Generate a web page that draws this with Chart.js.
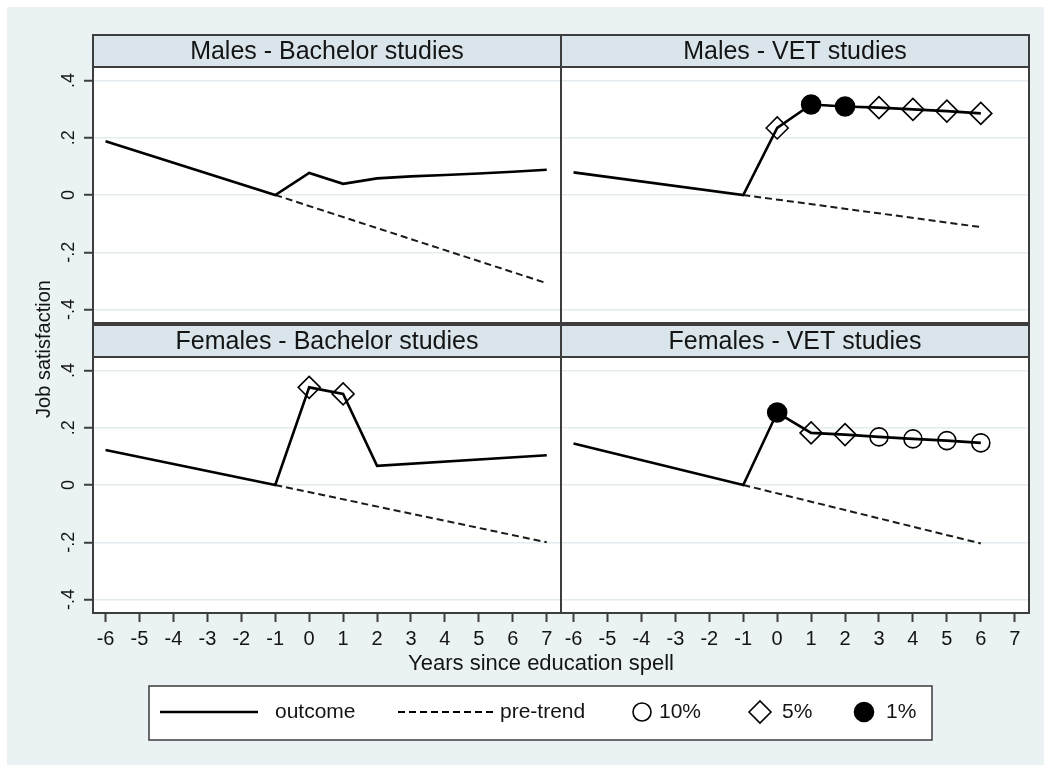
<!DOCTYPE html>
<html>
<head>
<meta charset="utf-8">
<script src="https://cdn.jsdelivr.net/npm/chart.js@4.4.0/dist/chart.umd.min.js"></script>
<style>
  html, body { margin: 0; padding: 0; background: #ffffff; }
  #page { position: relative; width: 1044px; height: 765px; overflow: hidden; }
  #bg { position: absolute; left: 7px; top: 7px; right: 0; bottom: 0; background: #eaf2f3; }
  canvas.layer { position: absolute; left: 0; top: 0; }
</style>
</head>
<body>
<div id="page">
  <div id="bg"></div>
  <canvas id="p0" class="layer" width="1044" height="765"></canvas>
  <canvas id="p1" class="layer" width="1044" height="765"></canvas>
  <canvas id="p2" class="layer" width="1044" height="765"></canvas>
  <canvas id="p3" class="layer" width="1044" height="765"></canvas>
</div>
<script>
// ---- data -------------------------------------------------------------
const xTicks = [-6, -5, -4, -3, -2, -1, 0, 1, 2, 3, 4, 5, 6, 7];
const yTicks = [-0.4, -0.2, 0, 0.2, 0.4];
const yTickLabels = ['-.4', '-.2', '0', '.2', '.4'];

const panelTitles = ['Males - Bachelor studies', 'Males - VET studies',
                     'Females - Bachelor studies', 'Females - VET studies'];

// Males, Bachelor studies
const mbYears = [-6, -1, 0, 1, 2, 3, 4, 5, 6, 7];
const mbOutcome = [0.188, 0, 0.077, 0.039, 0.058, 0.065, 0.070, 0.075, 0.081, 0.088];
const mbSig = ['', '', '', '', '', '', '', '', '', ''];
const mbTrendYears = [-1, 7];
const mbTrend = [0, -0.308];

// Males, VET studies
const mvYears = [-6, -1, 0, 1, 2, 3, 4, 5, 6];
const mvOutcome = [0.079, 0, 0.234, 0.316, 0.309, 0.305, 0.299, 0.293, 0.285];
const mvSig = ['', '', '5%', '1%', '1%', '5%', '5%', '5%', '5%'];
const mvTrendYears = [-1, 6];
const mvTrend = [0, -0.112];

// Females, Bachelor studies
const fbYears = [-6, -1, 0, 1, 2, 7];
const fbOutcome = [0.122, 0, 0.341, 0.318, 0.067, 0.104];
const fbSig = ['', '', '5%', '5%', '', ''];
const fbTrendYears = [-1, 7];
const fbTrend = [0, -0.200];

// Females, VET studies
const fvYears = [-6, -1, 0, 1, 2, 3, 4, 5, 6];
const fvOutcome = [0.145, 0, 0.253, 0.182, 0.176, 0.168, 0.161, 0.155, 0.147];
const fvSig = ['', '', '1%', '5%', '5%', '10%', '10%', '10%', '10%'];
const fvTrendYears = [-1, 6];
const fvTrend = [0, -0.204];

const legendLabels = ['outcome', 'pre-trend', '10%', '5%', '1%'];
const xTitle = 'Years since education spell';
const yTitle = 'Job satisfaction';

// ---- styling / layout ------------------------------------------------------
const W = 1044, H = 765;
const FONT = "'Liberation Sans', Arial, sans-serif";
const INK = '#000000';
const TEXT = '#141414';
const FRAME = '#3d3d3d';
const GRID = '#e3ecef';
const STRIP = '#d9e5ea';
const COLS = [[93, 561], [561, 1029]];
const ROWS = [[67, 323], [357, 613]];
const STRIP_H = 32;
const Y_AXIS_W = 10;
const X_AXIS_H = 60;

const markerStyle = { '10%': 'circle', '5%': 'rectRot', '1%': 'circle' };
const markerRadius = { '10%': 9, '5%': 11, '1%': 9.5 };
const markerFill = { '10%': 'rgba(0,0,0,0)', '5%': 'rgba(0,0,0,0)', '1%': '#000000' };

function pairs(xs, ys) { return xs.map((x, i) => ({ x: x, y: ys[i] })); }

function outcomeDataset(xs, ys, sig) {
  return {
    label: 'outcome',
    data: pairs(xs, ys),
    borderColor: INK,
    borderWidth: 2.6,
    tension: 0,
    pointStyle: sig.map(s => markerStyle[s] || 'circle'),
    pointRadius: sig.map(s => markerRadius[s] || 0),
    pointBackgroundColor: sig.map(s => markerFill[s] || 'rgba(0,0,0,0)'),
    pointBorderColor: INK,
    pointBorderWidth: 1.6,
    pointHoverRadius: 0
  };
}

function trendDataset(xs, ys) {
  return {
    label: 'pre-trend',
    data: pairs(xs, ys),
    borderColor: '#1a1a1a',
    borderWidth: 2,
    borderDash: [7, 4],
    tension: 0,
    pointRadius: 0,
    pointHoverRadius: 0
  };
}

// white plot region, frame, strip and strip title around each panel
const panelFrame = {
  id: 'panelFrame',
  beforeDraw(chart) {
    const a = chart.chartArea, ctx = chart.ctx;
    ctx.save();
    ctx.fillStyle = '#ffffff';
    ctx.fillRect(a.left, a.top, a.right - a.left, a.bottom - a.top);
    ctx.restore();
  },
  afterDraw(chart, args, opts) {
    const a = chart.chartArea, ctx = chart.ctx;
    ctx.save();
    ctx.fillStyle = STRIP;
    ctx.fillRect(a.left, a.top - STRIP_H, a.right - a.left, STRIP_H);
    ctx.strokeStyle = FRAME;
    ctx.lineWidth = 2;
    ctx.strokeRect(a.left, a.top - STRIP_H, a.right - a.left, STRIP_H);
    ctx.strokeRect(a.left, a.top, a.right - a.left, a.bottom - a.top);
    ctx.fillStyle = TEXT;
    ctx.font = '25px ' + FONT;
    ctx.textAlign = 'center';
    ctx.textBaseline = 'middle';
    ctx.fillText(opts.title, (a.left + a.right) / 2, a.top - STRIP_H / 2 + 1);
    ctx.restore();
  }
};

// rotated y tick labels (left column)
const rotatedYLabels = {
  id: 'rotatedYLabels',
  afterDraw(chart, args, opts) {
    if (!opts.show) return;
    const s = chart.scales.y, ctx = chart.ctx;
    ctx.save();
    ctx.fillStyle = TEXT;
    ctx.font = '18px ' + FONT;
    ctx.textAlign = 'center';
    ctx.textBaseline = 'middle';
    yTicks.forEach((v, i) => {
      const y = s.getPixelForValue(v);
      ctx.save();
      ctx.translate(69, y);
      ctx.rotate(-Math.PI / 2);
      ctx.fillText(yTickLabels[i], 0, 0);
      ctx.restore();
    });
    ctx.restore();
  }
};

// axis titles and legend box (drawn once)
const sharedDecor = {
  id: 'sharedDecor',
  afterDraw(chart, args, opts) {
    if (!opts.show) return;
    const ctx = chart.ctx;
    ctx.save();
    ctx.fillStyle = TEXT;
    ctx.font = '22px ' + FONT;
    ctx.textAlign = 'center';
    ctx.textBaseline = 'middle';
    ctx.fillText(xTitle, 541, 664);
    ctx.save();
    ctx.translate(44, 349);
    ctx.rotate(-Math.PI / 2);
    ctx.font = '20px ' + FONT;
    ctx.fillText(yTitle, 0, 0);
    ctx.restore();

    // legend
    const bx = 149, by = 686, bw = 783, bh = 54, cy = 712;
    ctx.fillStyle = '#ffffff';
    ctx.fillRect(bx, by, bw, bh);
    ctx.strokeStyle = FRAME;
    ctx.lineWidth = 1.5;
    ctx.strokeRect(bx, by, bw, bh);

    ctx.strokeStyle = INK;
    ctx.lineWidth = 2.6;
    ctx.beginPath(); ctx.moveTo(160, cy); ctx.lineTo(258, cy); ctx.stroke();
    ctx.lineWidth = 2;
    ctx.setLineDash([7, 4]);
    ctx.beginPath(); ctx.moveTo(398, cy); ctx.lineTo(493, cy); ctx.stroke();
    ctx.setLineDash([]);

    const drawPoint = Chart.helpers.drawPoint;
    ctx.lineWidth = 1.6;
    ctx.strokeStyle = INK;
    ctx.fillStyle = 'rgba(0,0,0,0)';
    drawPoint(ctx, { pointStyle: 'circle', radius: 9, rotation: 0, borderWidth: 1.6 }, 642, cy);
    drawPoint(ctx, { pointStyle: 'rectRot', radius: 11, rotation: 0, borderWidth: 1.6 }, 760, cy);
    ctx.fillStyle = INK;
    drawPoint(ctx, { pointStyle: 'circle', radius: 9.5, rotation: 0, borderWidth: 1.6 }, 864, cy);

    ctx.fillStyle = TEXT;
    ctx.font = '21px ' + FONT;
    ctx.textAlign = 'left';
    ctx.fillText(legendLabels[0], 275, cy);
    ctx.fillText(legendLabels[1], 500, cy);
    ctx.fillText(legendLabels[2], 659, cy);
    ctx.fillText(legendLabels[3], 782, cy);
    ctx.fillText(legendLabels[4], 886, cy);
    ctx.restore();
  }
};

function makePanel(canvasId, index, datasets) {
  const col = index % 2, row = Math.floor(index / 2);
  const isLeft = col === 0, isBottom = row === 1;
  const padding = {
    left: COLS[col][0] - (isLeft ? Y_AXIS_W : 0),
    right: W - COLS[col][1],
    top: ROWS[row][0],
    bottom: H - ROWS[row][1] - (isBottom ? X_AXIS_H : 0)
  };
  return new Chart(document.getElementById(canvasId), {
    type: 'line',
    data: { datasets: datasets },
    options: {
      responsive: false,
      animation: false,
      events: [],
      layout: { padding: padding },
      plugins: {
        legend: { display: false },
        tooltip: { enabled: false },
        panelFrame: { title: panelTitles[index] },
        rotatedYLabels: { show: isLeft },
        sharedDecor: { show: index === 2 }
      },
      scales: {
        x: {
          type: 'linear',
          min: -6.37,
          max: 7.42,
          display: isBottom,
          afterBuildTicks: s => { s.ticks = xTicks.map(v => ({ value: v })); },
          afterFit: s => { s.height = isBottom ? X_AXIS_H : 0; },
          border: { display: false },
          grid: { display: true, drawOnChartArea: false, drawTicks: true, tickLength: 9,
                  tickColor: FRAME, tickWidth: 2 },
          ticks: { autoSkip: false, maxRotation: 0, minRotation: 0, padding: 5,
                   color: TEXT, font: { family: FONT, size: 20 },
                   callback: v => String(v) }
        },
        y: {
          type: 'linear',
          min: -0.447,
          max: 0.447,
          display: true,
          afterBuildTicks: s => { s.ticks = yTicks.map(v => ({ value: v })); },
          afterFit: s => { s.width = isLeft ? Y_AXIS_W : 0; },
          border: { display: false },
          grid: { color: GRID, lineWidth: 1.5, drawTicks: isLeft, tickLength: 9,
                  tickColor: FRAME, tickWidth: 2 },
          ticks: { display: false }
        }
      }
    },
    plugins: [panelFrame, rotatedYLabels, sharedDecor]
  });
}

makePanel('p0', 0, [outcomeDataset(mbYears, mbOutcome, mbSig), trendDataset(mbTrendYears, mbTrend)]);
makePanel('p1', 1, [outcomeDataset(mvYears, mvOutcome, mvSig), trendDataset(mvTrendYears, mvTrend)]);
makePanel('p2', 2, [outcomeDataset(fbYears, fbOutcome, fbSig), trendDataset(fbTrendYears, fbTrend)]);
makePanel('p3', 3, [outcomeDataset(fvYears, fvOutcome, fvSig), trendDataset(fvTrendYears, fvTrend)]);
</script>
</body>
</html>
